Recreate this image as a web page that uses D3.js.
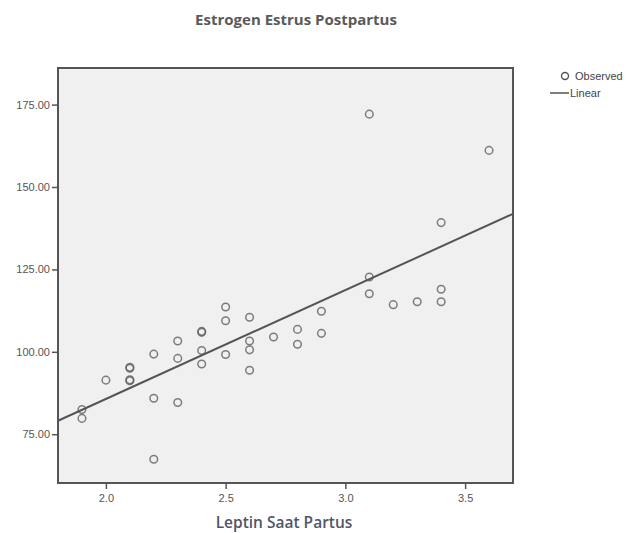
<!doctype html>
<html>
<head>
    <meta charset="utf-8">
    <title>Estrogen Estrus Postpartus</title>
    <script src="https://cdn.jsdelivr.net/npm/d3@7"></script>
    <style>
        body { margin: 0; background: #fff; }
        .tick text { font-family: "Liberation Sans", Arial, sans-serif; font-size: 11px; fill: #555; }
    </style>
</head>
<body>
    <svg width="627" height="533"></svg>
    <script>
        // Leptin Saat Partus (x) vs Estrogen Estrus Postpartus (y)
        var leptin = [1.9, 1.9, 2.0, 2.1, 2.1, 2.1, 2.1, 2.2, 2.2, 2.2, 2.3, 2.3, 2.3,
            2.4, 2.4, 2.4, 2.4, 2.5, 2.5, 2.5, 2.6, 2.6, 2.6, 2.6, 2.7, 2.8, 2.8,
            2.9, 2.9, 3.1, 3.1, 3.1, 3.2, 3.3, 3.4, 3.4, 3.4, 3.6];
        var estrogen = [82.5, 79.8, 91.4, 95.3, 95.0, 91.5, 91.2, 99.3, 85.9, 67.4, 103.3, 98.0, 84.6,
            105.9, 106.2, 100.4, 96.3, 113.6, 109.4, 99.2, 110.5, 103.3, 100.6, 94.4, 104.5, 106.8, 102.3,
            112.3, 105.6, 172.1, 122.7, 117.6, 114.3, 115.2, 139.2, 119.0, 115.2, 161.1];
        var xTicks = [2.0, 2.5, 3.0, 3.5];
        var yTicks = [75, 100, 125, 150, 175];
        var legendLabels = ["Observed", "Linear"];

        var svg = d3.select("svg"),
            margin = { top: 68, right: 114, bottom: 50, left: 58 },
            width = +svg.attr("width") - margin.left - margin.right,
            height = +svg.attr("height") - margin.top - margin.bottom;

        var x = d3.scaleLinear().domain([1.8, 3.7]).range([0, width]),
            y = d3.scaleLinear().domain([60.2, 186.1]).range([height, 0]);

        // least squares fit
        var mx = d3.mean(leptin), my = d3.mean(estrogen);
        var sxy = d3.sum(leptin, function (d, i) { return (d - mx) * (estrogen[i] - my); });
        var sxx = d3.sum(leptin, function (d) { return (d - mx) * (d - mx); });
        var slope = sxy / sxx, intercept = my - slope * mx;

        svg.append("text")
            .attr("x", 296).attr("y", 25)
            .attr("text-anchor", "middle")
            .style("font-family", "'Open Sans', sans-serif")
            .style("font-size", "15px").style("font-weight", "700")
            .style("fill", "#5a5a5a")
            .text("Estrogen Estrus Postpartus");

        var g = svg.append("g")
            .attr("transform", "translate(" + margin.left + "," + margin.top + ")");

        g.append("rect")
            .attr("width", width).attr("height", height)
            .attr("fill", "#f0f0f0");

        g.append("g")
            .attr("transform", "translate(0," + height + ")")
            .call(d3.axisBottom(x).tickValues(xTicks).tickFormat(d3.format(".1f")).tickSize(6).tickPadding(5))
            .call(function (s) {
                s.select(".domain").remove();
                s.selectAll(".tick line").attr("stroke", "#555").attr("stroke-width", 1.5);
            });

        g.append("g")
            .call(d3.axisLeft(y).tickValues(yTicks).tickFormat(d3.format(".2f")).tickSize(6).tickPadding(2))
            .call(function (s) {
                s.select(".domain").remove();
                s.selectAll(".tick line").attr("stroke", "#555").attr("stroke-width", 1.5);
            });

        g.append("line")
            .attr("x1", x(1.8)).attr("y1", y(intercept + slope * 1.8))
            .attr("x2", x(3.7)).attr("y2", y(intercept + slope * 3.7))
            .attr("stroke", "#555").attr("stroke-width", 2);

        g.selectAll(".dot")
            .data(leptin)
            .enter().append("circle")
            .attr("class", "dot")
            .attr("cx", function (d) { return x(d); })
            .attr("cy", function (d, i) { return y(estrogen[i]); })
            .attr("r", 3.8)
            .attr("fill", "none")
            .attr("stroke", "#555")
            .attr("stroke-opacity", 0.75)
            .attr("stroke-width", 1.5);

        g.append("rect")
            .attr("width", width).attr("height", height)
            .attr("fill", "none").attr("stroke", "#555").attr("stroke-width", 2);

        svg.append("text")
            .attr("x", 284).attr("y", 528)
            .attr("text-anchor", "middle")
            .style("font-family", "'Open Sans', sans-serif")
            .style("font-size", "15.5px").style("font-weight", "600")
            .style("fill", "#4f5666")
            .text("Leptin Saat Partus");

        // legend
        var lg = svg.append("g").style("font-family", "'Liberation Sans', Arial, sans-serif")
            .style("font-size", "11px").style("fill", "#444");
        lg.append("circle").attr("cx", 565).attr("cy", 76).attr("r", 3.5)
            .attr("fill", "none").attr("stroke", "#555").attr("stroke-width", 1.4);
        lg.append("text").attr("x", 575).attr("y", 80).text(legendLabels[0]);
        lg.append("line").attr("x1", 550).attr("x2", 569).attr("y1", 93).attr("y2", 93)
            .attr("stroke", "#555").attr("stroke-width", 1.5);
        lg.append("text").attr("x", 570).attr("y", 97).text(legendLabels[1]);
    </script>
</body>
</html>
